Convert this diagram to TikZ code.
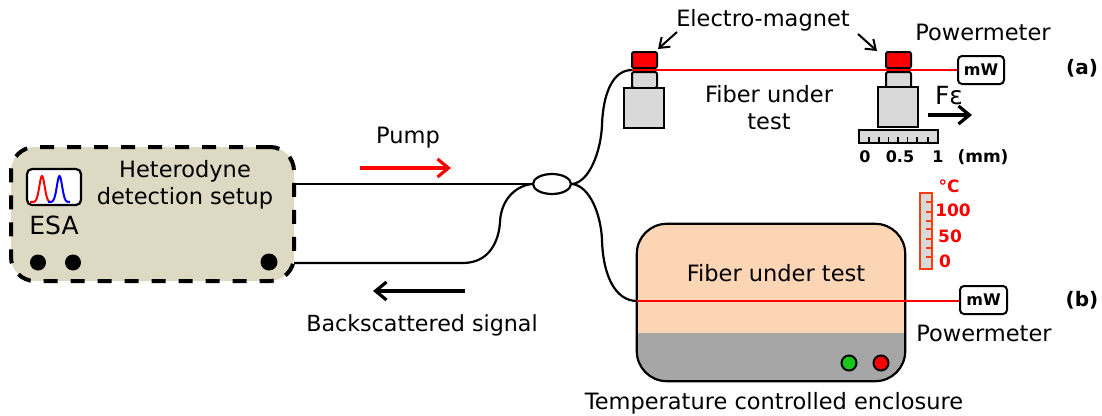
\documentclass[tikz,border=0pt]{standalone}
\usepackage{fontspec}
\setmainfont{DejaVu Sans}
\usetikzlibrary{arrows.meta,shapes}
\definecolor{setupfill}{HTML}{DDD9C3}
\definecolor{peach}{HTML}{FCD5B5}
\definecolor{blockgray}{HTML}{D9D9D9}
\definecolor{basegray}{HTML}{A6A6A6}
\definecolor{thermo}{HTML}{FF3D0D}
\tikzstyle{txt} = [inner sep=0pt, align=center, font=\fontsize{22.5}{27}\selectfont]
\tikzstyle{bold} = [inner sep=0pt, font=\fontsize{16}{19}\selectfont\bfseries]
\tikzstyle{hot} = [bold, text=red, font=\fontsize{17}{20}\selectfont\bfseries]
\tikzstyle{magnet} = [rectangle, draw, fill=red, line width=2pt, rounded corners=2pt,
    inner sep=0pt, minimum width=25pt, minimum height=16pt]
\tikzstyle{holder} = [magnet, fill=blockgray]
\tikzstyle{block} = [rectangle, draw, fill=blockgray, line width=2pt, inner sep=0pt,
    minimum width=40pt, minimum height=40pt]
\tikzstyle{meter} = [rectangle, draw, fill=white, line width=2pt, rounded corners=4pt,
    inner sep=0pt, minimum width=46pt, minimum height=28pt, bold]
\tikzstyle{dot} = [circle, fill=black, inner sep=0pt, minimum size=16pt]
\tikzstyle{lamp} = [circle, draw, line width=2pt, inner sep=0pt, minimum size=15pt]
\tikzstyle{fiber} = [line width=2.2pt]
\tikzstyle{redfiber} = [line width=2.4pt, red]
\tikzstyle{flow} = [-{Straight Barb[length=11pt,width=18pt]}, line width=3.2pt]
\tikzstyle{thin} = [-{Straight Barb[length=9pt,width=13pt]}, line width=2pt]

\begin{document}
\begin{tikzpicture}[x=1pt,y=-1pt]
  \useasboundingbox (0,0) rectangle (1102,415);

  % detection setup
  \node[rectangle, draw, fill=setupfill, line width=4pt, dash pattern=on 14pt off 13pt,
        rounded corners=24pt, minimum width=283pt, minimum height=134pt] (setup) at (152.5,214) {};
  \node[rectangle, draw, fill=white, line width=2.2pt, rounded corners=5pt,
        minimum width=54pt, minimum height=36pt] (esa) at (54,187) {};
  \draw[red, line width=2pt, smooth, domain=30:50, samples=30]
    plot ({\x},{202-26*exp(-(\x-42)*(\x-42)/14)});
  \draw[blue, line width=2pt, smooth, domain=48:70, samples=30]
    plot ({\x},{202-26*exp(-(\x-59.5)*(\x-59.5)/14)});
  \node[txt, font=\fontsize{25}{30}\selectfont] (esatxt) at (54,225) {ESA};
  \node[txt] (hetero) at (185,184.5) {Heterodyne\\detection setup};
  \node[dot] (d1) at (38,262.5) {};
  \node[dot] (d2) [right of=d1, node distance=35pt] {};
  \node[dot, minimum size=17pt] (d3) at (269,262) {};

  % coupler
  \coordinate (out1) at (294,184);
  \coordinate (out2) at (294,263);
  \coordinate (bend) at (463,263);
  \coordinate (fa) at (632,70);
  \coordinate (fb) at (637,301);
  \node[ellipse, draw, line width=2.2pt, minimum width=38pt, minimum height=20pt, inner sep=0pt] (coupler) at (552,184) {};
  \draw[fiber] (out1) -- (coupler.west);
  \draw[fiber] (out2) -- (bend) .. controls (490,263) and (499,240) .. (500,222)
    .. controls (501,200) and (515,186) .. (coupler.west);
  \draw[fiber] (coupler.east) .. controls (590,182) and (601,150) .. (602,125)
    .. controls (603,95) and (612,70) .. (fa);
  \draw[fiber] (coupler.east) .. controls (590,186) and (601,215) .. (602,240)
    .. controls (603,275) and (615,301) .. (fb);

  \coordinate (p1) at (360,168);
  \coordinate (p2) at (451,168);
  \coordinate (b1) at (465,291);
  \coordinate (b2) at (373,291);
  \draw[flow, red] (p1) -- (p2);
  \draw[flow] (b1) -- (b2);
  \node[txt] (pump) at (408,138) {Pump};
  \node[txt, font=\fontsize{22.2}{27}\selectfont] (back) at (422,325) {Backscattered signal};

  % setup (a)
  \node[magnet] (m1) at (644.5,60) {};
  \node[holder] (h1) [below of=m1, node distance=20pt] {};
  \node[block]  (k1) at (644,108) {};
  \node[magnet] (m2) at (898.5,60) {};
  \node[holder] (h2) [below of=m2, node distance=20pt] {};
  \node[block]  (k2) at (898,107) {};
  \node[rectangle, draw, fill=blockgray, line width=2pt, minimum width=79pt, minimum height=13pt,
        inner sep=0pt] (ruler) at (898.5,136.5) {};
  \draw[line width=1.3pt] (869,137)--(869,142) (879,137)--(879,142) (888.5,137)--(888.5,142)
    (898,137)--(898,142) (907.5,137)--(907.5,142) (917,137)--(917,142) (928,137)--(928,142);
  \node[meter] (mw1) at (981,70) {mW};
  \draw[redfiber] (fa) -- (mw1);
  \node[txt] (em) at (763,20) {Electro-magnet};
  \node[txt] (pm1) at (983,32) {Powermeter};
  \node[txt] (fut1) at (769,107.5) {Fiber under\\test};
  \node[txt, font=\fontsize{25}{30}\selectfont] (feps) at (949,96) {Fε};
  \node[bold, font=\fontsize{20}{24}\selectfont\bfseries] (la) at (1082,68) {(a)};
  \node[bold] (s0) at (865,157) {0};
  \node[bold] (s1) at (900,157) {0.5};
  \node[bold] (s2) at (938,157) {1};
  \node[bold, font=\fontsize{17}{20}\selectfont\bfseries] (s3) at (983,157) {(mm)};
  \coordinate (e1) at (677,32);
  \coordinate (t1) at (658,49);
  \coordinate (e2) at (858,34);
  \coordinate (t2) at (877,51);
  \coordinate (f1) at (928,115);
  \coordinate (f2) at (972,115);
  \path[thin] (e1) edge (t1)
  (e2) edge (t2);
  \draw[flow] (f1) -- (f2);

  % setup (b)
  \node[rectangle, fill=peach, rounded corners=30pt, minimum width=268pt, minimum height=157pt,
        inner sep=0pt] (encl) at (771,302.5) {};
  \fill[basegray] (637,333) -- (905,333) [rounded corners=30pt] -- (905,381) -- (637,381) [sharp corners] -- cycle;
  \draw[line width=2.2pt, rounded corners=30pt] (encl.south west) rectangle (encl.north east);
  \node[lamp, fill=green!75!black!90] (led1) at (849,363) {};
  \node[lamp, fill=red] (led2) [right of=led1, node distance=32pt] {};
  \node[meter, minimum width=47pt] (mw2) at (983.5,300) {mW};
  \draw[redfiber] (fb) -- (fb -| mw2.west);
  \node[txt] (fut2) at (776,273) {Fiber under test};
  \node[txt] (pm2) at (984,333) {Powermeter};
  \node[txt] (tce) at (774,403) {Temperature controlled enclosure};
  \node[bold, font=\fontsize{20}{24}\selectfont\bfseries] (lb) at (1082,300) {(b)};

  % thermometer
  \node[rectangle, draw=thermo, fill=blockgray, line width=2.6pt, minimum width=12pt, minimum height=76pt,
        inner sep=0pt] (therm) at (926,231) {};
  \draw[thermo, line width=1.3pt] (926,202)--(932,202) (926,212)--(932,212) (926,221)--(932,221)
    (926,229)--(932,229) (926,239)--(932,239) (926,248)--(932,248) (926,257)--(932,257);
  \node[hot] (t0) at (949,186) {°C};
  \node[hot] (t1a) at (953,210) {100};
  \node[hot] (t2a) at (950,236) {50};
  \node[hot] (t3a) at (945,261) {0};
\end{tikzpicture}
\end{document}
